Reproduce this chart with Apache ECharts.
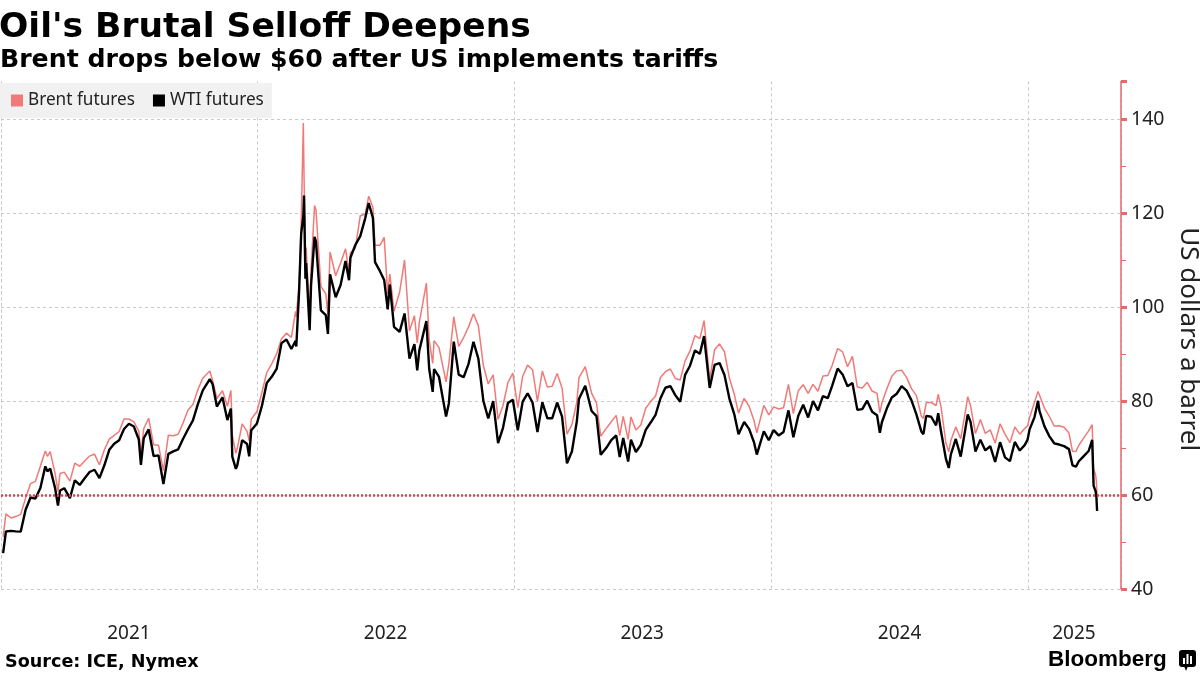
<!DOCTYPE html>
<html>
<head>
<meta charset="utf-8">
<script src="https://cdn.jsdelivr.net/npm/echarts@6/dist/echarts.min.js"></script>
<style>
html,body{margin:0;padding:0;background:#fff;}
#chart{width:1200px;height:675px;}
</style>
</head>
<body>
<div id="chart"></div>
<script>
// ---- data (weekly / notable closes) ----
const dates = [
'2021-01-04','2021-01-08','2021-01-15','2021-01-22','2021-01-29','2021-02-05','2021-02-12','2021-02-19','2021-02-26','2021-03-05','2021-03-08','2021-03-12','2021-03-19','2021-03-23','2021-03-26','2021-04-01','2021-04-09','2021-04-16','2021-04-23','2021-04-30','2021-05-07','2021-05-14','2021-05-21','2021-05-28','2021-06-04','2021-06-11','2021-06-18','2021-06-25','2021-07-02','2021-07-09','2021-07-16','2021-07-19','2021-07-23','2021-07-30','2021-08-06','2021-08-13','2021-08-20','2021-08-27','2021-09-03','2021-09-10','2021-09-17','2021-09-24','2021-10-01','2021-10-08','2021-10-15','2021-10-25','2021-10-29','2021-11-04','2021-11-12','2021-11-19','2021-11-24','2021-11-26','2021-12-01','2021-12-03','2021-12-10','2021-12-17','2021-12-20','2021-12-23','2021-12-31',
'2022-01-07','2022-01-14','2022-01-21','2022-01-28','2022-02-04','2022-02-11','2022-02-18','2022-02-24','2022-02-25','2022-03-01','2022-03-04','2022-03-07','2022-03-08','2022-03-10','2022-03-11','2022-03-16','2022-03-18','2022-03-23','2022-03-25','2022-04-01','2022-04-08','2022-04-11','2022-04-14','2022-04-22','2022-04-29','2022-05-06','2022-05-11','2022-05-13','2022-05-20','2022-05-27','2022-06-03','2022-06-08','2022-06-14','2022-06-17','2022-06-24','2022-06-30','2022-07-05','2022-07-08','2022-07-14','2022-07-22','2022-07-29','2022-08-05','2022-08-12','2022-08-16','2022-08-19','2022-08-29','2022-09-02','2022-09-07','2022-09-09','2022-09-16','2022-09-26','2022-09-30','2022-10-07','2022-10-14','2022-10-21','2022-10-28','2022-11-04','2022-11-11','2022-11-18','2022-11-25','2022-12-02','2022-12-09','2022-12-16','2022-12-23','2022-12-30',
'2023-01-06','2023-01-13','2023-01-20','2023-01-27','2023-02-03','2023-02-10','2023-02-17','2023-02-24','2023-03-03','2023-03-10','2023-03-17','2023-03-24','2023-03-31','2023-04-03','2023-04-12','2023-04-21','2023-04-28','2023-05-04','2023-05-12','2023-05-19','2023-05-26','2023-05-31','2023-06-05','2023-06-12','2023-06-16','2023-06-23','2023-06-30','2023-07-07','2023-07-14','2023-07-21','2023-07-28','2023-08-04','2023-08-11','2023-08-18','2023-08-25','2023-09-01','2023-09-08','2023-09-15','2023-09-22','2023-09-28','2023-10-06','2023-10-13','2023-10-20','2023-10-27','2023-11-03','2023-11-10','2023-11-16','2023-11-24','2023-12-01','2023-12-08','2023-12-12','2023-12-22','2023-12-29',
'2024-01-05','2024-01-12','2024-01-19','2024-01-26','2024-02-02','2024-02-09','2024-02-16','2024-02-23','2024-03-01','2024-03-08','2024-03-15','2024-03-22','2024-03-28','2024-04-05','2024-04-12','2024-04-19','2024-04-26','2024-05-03','2024-05-10','2024-05-17','2024-05-24','2024-05-31','2024-06-04','2024-06-07','2024-06-14','2024-06-21','2024-06-28','2024-07-05','2024-07-12','2024-07-19','2024-07-26','2024-08-02','2024-08-05','2024-08-09','2024-08-16','2024-08-23','2024-08-26','2024-08-30','2024-09-06','2024-09-10','2024-09-13','2024-09-20','2024-09-27','2024-10-04','2024-10-07','2024-10-11','2024-10-18','2024-10-25','2024-11-01','2024-11-08','2024-11-15','2024-11-22','2024-11-29','2024-12-06','2024-12-13','2024-12-20','2024-12-27','2024-12-31',
'2025-01-03','2025-01-10','2025-01-15','2025-01-17','2025-01-24','2025-01-31','2025-02-07','2025-02-14','2025-02-21','2025-02-28','2025-03-05','2025-03-10','2025-03-14','2025-03-21','2025-03-28','2025-04-02','2025-04-03','2025-04-04','2025-04-07','2025-04-08','2025-04-09'
];
const brent = [
51.09,55.99,55.10,55.41,55.88,59.34,62.43,62.91,66.13,69.36,68.24,69.22,64.53,60.79,64.57,64.86,62.95,66.77,66.11,67.25,68.28,68.71,66.44,69.63,71.89,72.69,73.51,76.18,76.17,75.55,73.59,68.62,74.10,76.33,70.70,70.59,65.18,72.70,72.61,72.92,75.34,78.09,79.28,82.39,84.86,86.40,84.38,80.54,82.17,78.89,82.25,72.72,68.87,69.88,75.15,73.52,71.52,76.14,77.78,
81.75,86.06,87.89,90.03,93.27,94.44,93.54,99.08,97.93,104.97,118.11,139.13,127.98,109.33,112.67,98.02,107.93,121.60,120.65,104.39,102.78,98.48,111.70,106.65,109.34,112.39,107.51,111.55,112.55,119.43,119.72,123.58,121.17,113.12,113.12,114.81,102.77,107.02,99.10,103.20,110.01,94.92,98.15,92.34,96.72,105.09,93.02,88.00,92.84,91.35,84.06,87.96,97.92,91.63,93.50,95.77,98.57,95.99,87.62,83.63,85.57,76.10,79.04,83.92,85.91,
78.57,85.28,87.63,86.66,79.94,86.39,83.00,83.16,85.83,82.78,72.97,74.99,79.77,84.93,87.33,81.66,79.54,72.50,74.17,75.58,76.95,72.66,76.71,71.84,76.61,73.85,74.90,78.47,79.87,81.07,84.99,86.24,86.81,84.80,84.48,88.55,90.65,93.93,93.27,97.10,84.58,90.89,92.16,90.48,84.89,81.43,77.42,80.58,78.88,75.84,73.24,79.07,77.04,
78.76,78.29,78.56,83.55,77.33,82.19,83.47,81.62,83.55,82.08,85.34,85.43,87.48,91.17,90.45,87.29,89.50,82.96,82.79,83.98,82.12,81.62,77.52,79.62,82.62,85.24,86.41,86.54,85.03,82.63,81.13,76.81,76.30,79.66,79.68,79.02,81.43,78.80,71.06,69.19,71.61,74.49,71.98,78.05,80.93,79.04,73.06,76.05,73.10,73.87,71.04,75.17,72.94,71.12,74.49,72.94,74.17,74.64,
76.51,79.76,82.03,81.29,78.50,76.76,74.66,74.74,74.43,73.18,69.30,69.28,70.58,72.16,73.63,74.95,70.14,65.58,64.21,62.82,59.50
];
const wti = [
47.62,52.24,52.36,52.27,52.20,56.85,59.47,59.24,61.50,66.09,65.05,65.61,61.42,57.76,60.97,61.45,59.32,63.13,62.14,63.58,64.90,65.37,63.58,66.32,69.62,70.91,71.64,74.05,75.16,74.56,71.81,66.42,72.07,73.95,68.28,68.44,62.32,68.74,69.29,69.72,71.97,73.98,75.88,79.35,82.28,84.65,83.57,78.81,80.79,75.94,78.39,68.15,65.57,66.26,71.67,70.86,68.23,73.79,75.21,
78.90,83.82,85.14,86.82,92.31,93.10,91.07,92.81,91.59,103.41,115.68,119.40,123.70,106.02,109.33,95.04,104.70,114.93,113.90,99.27,98.26,94.29,106.95,102.07,104.69,109.77,105.71,110.49,113.23,115.07,118.87,122.11,118.93,109.56,107.62,105.76,99.50,104.79,95.78,94.70,98.62,89.01,92.09,86.53,90.77,97.01,86.87,81.94,86.79,85.11,76.71,79.49,92.64,85.61,85.05,87.90,92.61,88.96,80.08,76.28,79.98,71.02,74.29,79.56,80.26,
73.77,79.86,81.64,79.68,73.39,79.72,76.34,76.32,79.68,76.68,66.74,69.26,75.67,80.42,83.26,77.87,76.78,68.56,70.04,71.69,72.67,68.09,72.15,67.12,71.78,69.16,70.64,73.86,75.42,77.07,80.58,82.82,83.19,81.25,79.83,85.55,87.51,90.77,90.03,93.80,82.79,87.69,88.08,85.54,80.51,77.17,72.90,75.54,74.07,71.23,68.61,73.56,71.65,
73.81,72.68,73.41,78.01,72.28,76.84,79.19,76.49,79.97,78.01,81.04,80.63,83.17,86.91,85.66,83.14,83.85,78.11,78.26,80.06,77.72,76.99,73.25,75.53,78.45,80.73,81.54,83.16,82.21,80.13,77.16,73.52,72.94,76.84,76.65,74.83,77.42,73.55,67.67,65.75,68.65,71.92,68.18,74.38,77.14,75.56,69.22,71.78,69.49,70.38,67.02,71.24,68.00,67.20,71.29,69.46,70.60,71.72,
73.96,76.57,80.04,77.88,74.66,72.53,71.00,70.74,70.40,69.76,66.31,66.03,67.18,68.28,69.36,71.71,66.95,61.99,60.70,59.58,56.60
];
const yTicks = [40, 60, 80, 100, 120, 140];
const xLabelDates = ['2021-07-02','2022-07-02','2023-07-02','2024-07-02','2025-03-07'];
const xLabels = ['2021','2022','2023','2024','2025'];
const threshold = 60;

// ---- build chart ----
const DAY = 86400000;
const xMin = Date.parse('2021-01-01');
const xMax = Date.parse('2025-05-13');
const labelMap = {};
xLabelDates.forEach((d, i) => { labelMap[Date.parse(d)] = xLabels[i]; });
const brentData = dates.map((d, i) => [Date.parse(d), brent[i]]);
const wtiData = dates.map((d, i) => [Date.parse(d), wti[i]]);

const RED = '#f07a78';
const AXISRED = '#e5696d';
const sans = '"Noto Sans", "Open Sans", sans-serif';
const boldFont = '"DejaVu Sans", Verdana, sans-serif';

const chart = echarts.init(document.getElementById('chart'), null, {renderer: 'canvas'});
chart.setOption({
  animation: false,
  backgroundColor: '#ffffff',
  title: [
    {text: "Oil's Brutal Selloff Deepens", left: -1, top: 10.5, padding: 0,
     textStyle: {fontFamily: boldFont, fontWeight: 'bold', fontSize: 34.5, color: '#000'}},
    {text: 'Brent drops below $60 after US implements tariffs', left: 0, top: 48, padding: 0,
     textStyle: {fontFamily: boldFont, fontWeight: 'bold', fontSize: 25.2, color: '#000'}},
    {text: 'Source: ICE, Nymex', left: 5, top: 653.5, padding: 0,
     textStyle: {fontFamily: boldFont, fontWeight: 'bold', fontSize: 17.6, color: '#000'}}
  ],
  legend: {
    left: 0, top: 83, padding: [9, 8, 9, 11],
    backgroundColor: '#f1f1f1',
    icon: 'rect', itemWidth: 12, itemHeight: 12, itemGap: 18,
    textStyle: {fontFamily: sans, fontSize: 17.2, color: '#222'},
    data: ['Brent futures', 'WTI futures']
  },
  grid: {left: 1, right: 79, top: 81.4, bottom: 86, containLabel: false, outerBoundsMode: 'none'},
  xAxis: [
    {
      type: 'time', min: xMin, max: xMax,
      minInterval: 365 * DAY, maxInterval: 366 * DAY,
      axisLine: {show: false}, axisTick: {show: false}, axisLabel: {show: false},
      splitLine: {show: true, lineStyle: {color: '#c9c9c9', type: [3, 3], width: 1}}
    },
    {
      type: 'value', min: xMin, max: xMax, interval: DAY, position: 'bottom',
      axisLine: {show: false}, axisTick: {show: false}, splitLine: {show: false},
      axisLabel: {
        margin: 35, fontFamily: sans, fontSize: 19, color: '#222',
        formatter: v => labelMap[v] || ''
      }
    }
  ],
  yAxis: {
    type: 'value', position: 'right', min: 40, max: 148, interval: 20,
    axisLine: {show: true, lineStyle: {color: AXISRED, width: 1.5}},
    axisTick: {show: true, length: 6, lineStyle: {color: AXISRED, width: 3}},
    minorTick: {show: true, splitNumber: 2, length: 5, lineStyle: {color: AXISRED, width: 1}},
    axisLabel: {margin: 10, fontFamily: sans, fontSize: 19.5, color: '#222', showMaxLabel: false,
      formatter: v => (yTicks.indexOf(v) >= 0 ? String(v) : '')},
    splitLine: {show: true, showMaxLine: false, lineStyle: {color: '#c9c9c9', type: [3, 3], width: 1}},
    name: 'US dollars a barrel', nameLocation: 'middle', nameRotate: -90, nameGap: 51,
    nameTextStyle: {fontFamily: sans, fontSize: 26, color: '#222', padding: [0, 0, 0, 8]}
  },
  series: [
    {
      name: 'Brent futures', type: 'line', xAxisIndex: 0, data: brentData,
      showSymbol: false, symbol: 'none', itemStyle: {color: RED},
      lineStyle: {color: RED, width: 1.5}, z: 2,
      markLine: {
        silent: true, symbol: ['none', 'none'], label: {show: false},
        lineStyle: {color: '#e0434b', type: [2, 2], width: 2.5},
        data: [{yAxis: threshold}]
      }
    },
    {
      name: 'WTI futures', type: 'line', xAxisIndex: 0, data: wtiData,
      showSymbol: false, symbol: 'none', itemStyle: {color: '#000'},
      lineStyle: {color: '#000', width: 2.4}, z: 3
    }
  ],
  graphic: [
    {type: 'text', left: 1048, top: 648,
     style: {text: 'Bloomberg', font: 'bold 22.5px "Liberation Sans", Arial, sans-serif', fill: '#000'}},
    {type: 'group', left: 1179, top: 650, children: [
      {type: 'rect', shape: {x: 0, y: 0, width: 17, height: 17, r: 3}, style: {fill: '#000'}},
      {type: 'polygon', shape: {points: [[5, 16], [9, 16], [7, 21]]}, style: {fill: '#000'}},
      {type: 'rect', shape: {x: 4, y: 8, width: 2, height: 6}, style: {fill: '#fff'}},
      {type: 'rect', shape: {x: 7.5, y: 4, width: 2, height: 10}, style: {fill: '#fff'}},
      {type: 'rect', shape: {x: 11, y: 6, width: 2, height: 8}, style: {fill: '#fff'}}
    ]}
  ]
});
</script>
</body>
</html>
